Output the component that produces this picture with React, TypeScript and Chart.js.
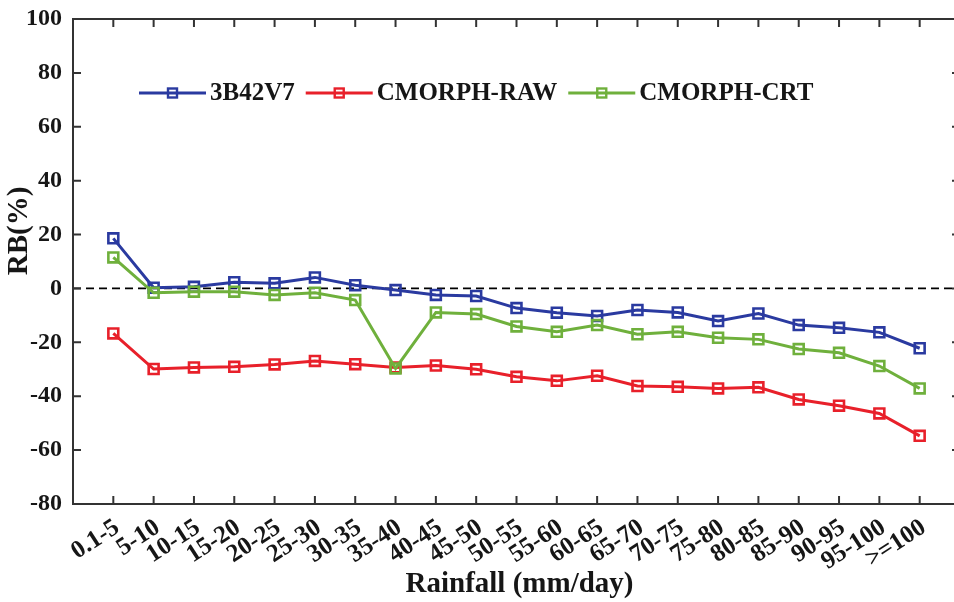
import React, { useEffect, useRef } from "react";
import { Chart, registerables } from "chart.js";

Chart.register(...registerables);

const categories = [
  "0.1-5", "5-10", "10-15", "15-20", "20-25", "25-30", "30-35", "35-40", "40-45", "45-50",
  "50-55", "55-60", "60-65", "65-70", "70-75", "75-80", "80-85", "85-90", "90-95", "95-100", ">=100",
];

const series3B42V7 = [18.6, 0.3, 0.6, 2.3, 1.9, 4.1, 1.2, -0.6, -2.4, -2.8, -7.3, -9.0, -10.2, -8.0, -8.9, -12.1, -9.3, -13.6, -14.6, -16.3, -22.2];
const seriesRaw = [-16.7, -29.9, -29.3, -29.1, -28.2, -26.9, -28.1, -29.3, -28.6, -30.0, -32.8, -34.3, -32.4, -36.2, -36.5, -37.1, -36.7, -41.2, -43.5, -46.4, -54.7];
const seriesCrt = [11.5, -1.6, -1.2, -1.2, -2.4, -1.6, -4.3, -29.7, -8.9, -9.5, -14.1, -16.1, -13.6, -17.0, -16.1, -18.3, -18.9, -22.5, -23.9, -28.8, -37.1];

const seriesNames = ["3B42V7", "CMORPH-RAW", "CMORPH-CRT"];
const seriesColors = ["#2A3AA0", "#E8202A", "#6FB03C"];

const yTicks = [-80, -60, -40, -20, 0, 20, 40, 60, 80, 100];

const FONT = "'Liberation Serif', 'Times New Roman', serif";
const TEXT = "#161616";
const FRAME = "#333333";

const toPoints = (arr: number[]) => arr.map((v, i) => ({ x: i + 1, y: v }));

const framePlugin = {
  id: "frame",
  afterDraw(chart: any) {
    const { ctx, chartArea: a, scales } = chart;
    ctx.save();
    ctx.strokeStyle = FRAME;
    ctx.lineWidth = 2;
    ctx.strokeRect(a.left, a.top, a.right - a.left, a.bottom - a.top);
    const tl = 8;
    ctx.beginPath();
    scales.x.ticks.forEach((t: any) => {
      const px = scales.x.getPixelForValue(t.value);
      ctx.moveTo(px, a.bottom);
      ctx.lineTo(px, a.bottom - tl);
      ctx.moveTo(px, a.top);
      ctx.lineTo(px, a.top + tl);
    });
    scales.y.ticks.forEach((t: any) => {
      const py = scales.y.getPixelForValue(t.value);
      ctx.moveTo(a.left, py);
      ctx.lineTo(a.left + tl, py);
      ctx.moveTo(a.right, py);
      ctx.lineTo(a.right - tl, py);
    });
    ctx.stroke();

    // axis titles
    ctx.fillStyle = TEXT;
    ctx.font = `bold 29px ${FONT}`;
    ctx.textAlign = "center";
    ctx.textBaseline = "middle";
    ctx.fillText("Rainfall (mm/day)", (a.left + a.right) / 2 + 3, 585);
    ctx.save();
    ctx.translate(20, a.top + 212);
    ctx.rotate(-Math.PI / 2);
    ctx.fillText("RB(%)", 0, 0);
    ctx.restore();

    // legend inside plot
    ctx.font = `bold 25px ${FONT}`;
    ctx.textAlign = "left";
    const ly = a.top + 74;
    let x = a.left + 66;
    seriesNames.forEach((name, i) => {
      const color = seriesColors[i];
      ctx.strokeStyle = color;
      ctx.lineWidth = 3;
      ctx.beginPath();
      ctx.moveTo(x, ly);
      ctx.lineTo(x + 67, ly);
      ctx.stroke();
      ctx.lineWidth = 2.4;
      ctx.strokeRect(x + 33.5 - 4.5, ly - 4.5, 9, 9);
      ctx.fillStyle = TEXT;
      ctx.fillText(name, x + 71, ly + 1);
      x = x + 71 + ctx.measureText(name).width + 11;
    });
    ctx.restore();
  },
};

export default function App() {
  const ref = useRef<HTMLCanvasElement | null>(null);
  useEffect(() => {
    if (!ref.current) return;
    const lineDs = (label: string, data: number[], color: string, order: number) => ({
      label,
      data: toPoints(data),
      borderColor: color,
      backgroundColor: "rgba(0,0,0,0)",
      borderWidth: 3,
      pointStyle: "rect",
      pointRadius: 7,
      pointBorderWidth: 2.6,
      pointBorderColor: color,
      pointBackgroundColor: "rgba(0,0,0,0)",
      tension: 0,
      order,
    });
    const chart = new Chart(ref.current, {
      type: "line",
      data: {
        datasets: [
          lineDs(seriesNames[0], series3B42V7, seriesColors[0], 2),
          lineDs(seriesNames[1], seriesRaw, seriesColors[1], 1),
          lineDs(seriesNames[2], seriesCrt, seriesColors[2], 0),
          {
            label: "zero",
            data: [{ x: 0, y: 0 }, { x: categories.length + 1, y: 0 }],
            borderColor: "#000000",
            borderWidth: 1.8,
            borderDash: [8, 5],
            pointRadius: 0,
            order: 5,
          } as any,
        ],
      },
      options: {
        responsive: false,
        animation: false,
        layout: { padding: { top: 19, right: 15, left: 0, bottom: 0 } },
        plugins: { legend: { display: false }, tooltip: { enabled: false } },
        scales: {
          x: {
            type: "linear",
            min: 0,
            max: categories.length + 1,
            grid: { display: false, drawTicks: false },
            border: { display: false },
            afterBuildTicks: (scale: any) => {
              scale.ticks = categories.map((_, i) => ({ value: i + 1 }));
            },
            afterFit: (scale: any) => {
              scale.height = 98;
              scale.paddingLeft = 0;
              scale.paddingRight = 0;
            },
            ticks: {
              autoSkip: false,
              minRotation: 33,
              maxRotation: 33,
              padding: 9,
              labelOffset: 4,
              color: TEXT,
              font: { family: FONT, size: 25, weight: "bold" },
              callback: (v: any) => categories[Number(v) - 1] ?? "",
            },
          },
          y: {
            min: -80,
            max: 100,
            grid: { display: false, drawTicks: false },
            border: { display: false },
            afterBuildTicks: (scale: any) => {
              scale.ticks = yTicks.map((v) => ({ value: v }));
            },
            afterFit: (scale: any) => {
              scale.width = 73;
              scale.paddingTop = 0;
              scale.paddingBottom = 0;
            },
            ticks: {
              padding: 11,
              color: TEXT,
              font: { family: FONT, size: 24, weight: "bold" },
            },
          },
        },
      } as any,
      plugins: [framePlugin],
    });
    return () => chart.destroy();
  }, []);
  return (
    <div style={{ position: "absolute", left: 0, top: 0, width: 954, height: 602, overflow: "hidden", background: "#fff" }}>
      <canvas ref={ref} width={975} height={602} style={{ width: 975, height: 602, display: "block" }} />
    </div>
  );
}
